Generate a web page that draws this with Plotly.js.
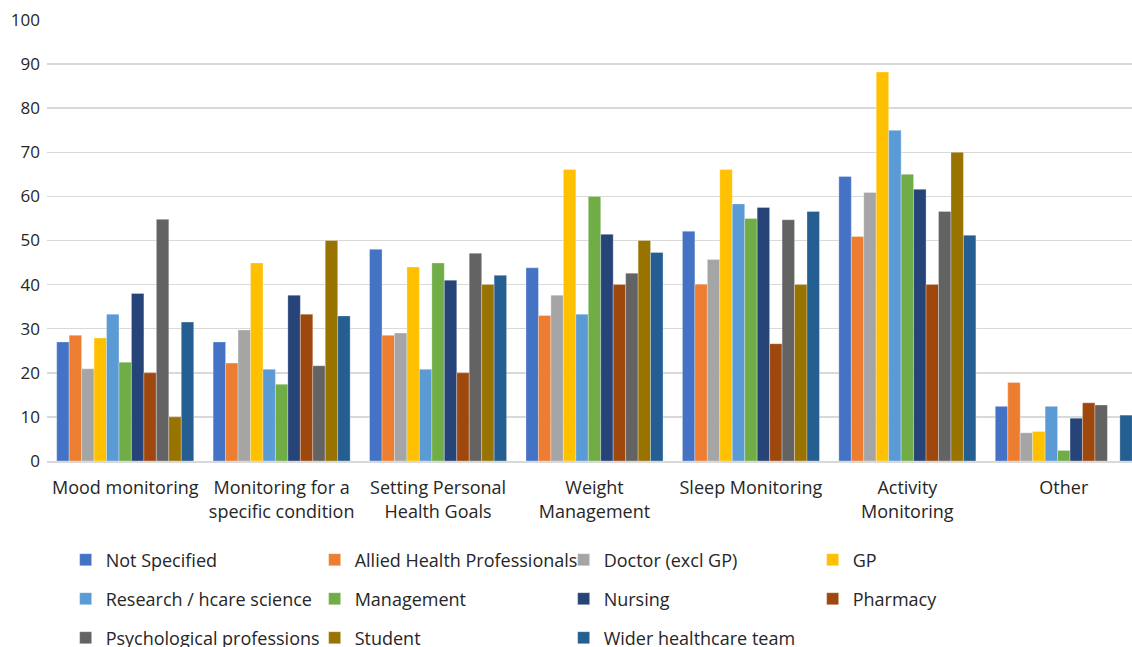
<!DOCTYPE html>
<html>
<head>
<meta charset="utf-8">
<script src="https://cdn.plot.ly/plotly-3.0.1.min.js"></script>
<style>
  html, body { margin: 0; padding: 0; background: #fff; overflow: hidden; }
  #chart { width: 1132px; height: 647px; }
</style>
</head>
<body>
<div id="chart"></div>
<script>
// Use categories (x axis)
const categories = [
  "Mood monitoring",
  "Monitoring for a<br>specific condition",
  "Setting Personal<br>Health Goals",
  "Weight<br>Management",
  "Sleep Monitoring",
  "Activity<br>Monitoring",
  "Other"
];

// Percentage per staff group, one value per category
const notSpecified   = [27.0, 27.0, 48.0, 43.8, 52.1, 64.5, 12.4];
const alliedHealth   = [28.5, 22.2, 28.5, 33.0, 40.1, 50.9, 17.8];
const doctorExclGP   = [20.9, 29.7, 29.0, 37.6, 45.7, 60.9, 6.4];
const gp             = [27.9, 44.9, 44.0, 66.1, 66.1, 88.2, 6.7];
const researchScience= [33.3, 20.8, 20.8, 33.3, 58.3, 75.0, 12.4];
const management     = [22.4, 17.4, 44.9, 60.0, 55.0, 65.0, 2.4];
const nursing        = [38.0, 37.6, 41.0, 51.4, 57.5, 61.6, 9.7];
const pharmacy       = [20.0, 33.3, 20.0, 40.0, 26.6, 40.0, 13.2];
const psychological  = [54.8, 21.6, 47.1, 42.6, 54.7, 56.6, 12.7];
const student        = [10.0, 50.0, 40.0, 50.0, 40.0, 70.0, 0];
const widerTeam      = [31.5, 32.9, 42.1, 47.3, 56.6, 51.2, 10.4];

const seriesNames = [
  "Not Specified", "Allied Health Professionals", "Doctor (excl GP)", "GP",
  "Research / hcare science", "Management", "Nursing", "Pharmacy",
  "Psychological professions", "Student", "Wider healthcare team"
];
const seriesValues = [
  notSpecified, alliedHealth, doctorExclGP, gp,
  researchScience, management, nursing, pharmacy,
  psychological, student, widerTeam
];
const seriesColors = [
  "#4472C4", "#ED7D31", "#A5A5A5", "#FFC000",
  "#5B9BD5", "#70AD47", "#264478", "#9E480E",
  "#636363", "#997300", "#255E91"
];
// which legend row each series sits in
const legendRow = ["legend", "legend", "legend", "legend",
                   "legend2", "legend2", "legend2", "legend2",
                   "legend3", "legend3", "legend3"];

const FONT = "Open Sans, Noto Sans, sans-serif";

const traces = seriesNames.map((name, i) => ({
  type: "bar",
  name: name,
  x: categories,
  y: seriesValues[i],
  legend: legendRow[i],
  marker: { color: seriesColors[i], line: { color: "rgba(255,255,255,0.6)", width: 0.5 } },
  hoverinfo: "x+y+name"
}));

function rowLegend(yPos) {
  return {
    orientation: "h",
    xref: "container", yref: "container",
    x: 0.058, y: yPos,
    xanchor: "left", yanchor: "middle",
    entrywidth: 204, entrywidthmode: "pixels",
    font: { family: FONT, size: 18, color: "#262626" },
    bgcolor: "rgba(0,0,0,0)",
    traceorder: "normal"
  };
}

const layout = {
  width: 1132,
  height: 647,
  margin: { l: 47, r: 0, t: 20, b: 186 },
  paper_bgcolor: "#ffffff",
  plot_bgcolor: "#ffffff",
  barmode: "group",
  bargap: 0.124,
  bargroupgap: 0,
  font: { family: FONT, color: "#262626" },
  xaxis: {
    type: "category",
    range: [-0.5, 6.436],
    showgrid: false,
    showline: true,
    linecolor: "#d9d9d9",
    linewidth: 1.5,
    ticks: "",
    ticklabelstandoff: 10,
    tickfont: { family: FONT, size: 18, color: "#262626" },
    fixedrange: true
  },
  yaxis: {
    range: [0, 100],
    dtick: 10,
    showgrid: true,
    gridcolor: "#d9d9d9",
    gridwidth: 1.5,
    zeroline: false,
    showline: false,
    ticks: "",
    ticklen: 0,
    automargin: false,
    ticklabelstandoff: 6,
    tickfont: { family: FONT, size: 17, color: "#262626" },
    fixedrange: true
  },
  showlegend: true,
  legend: rowLegend(1 - 560 / 647),
  legend2: rowLegend(1 - 599 / 647),
  legend3: rowLegend(1 - 638 / 647)
};

Plotly.newPlot("chart", traces, layout, { displayModeBar: false, staticPlot: true });
</script>
</body>
</html>
